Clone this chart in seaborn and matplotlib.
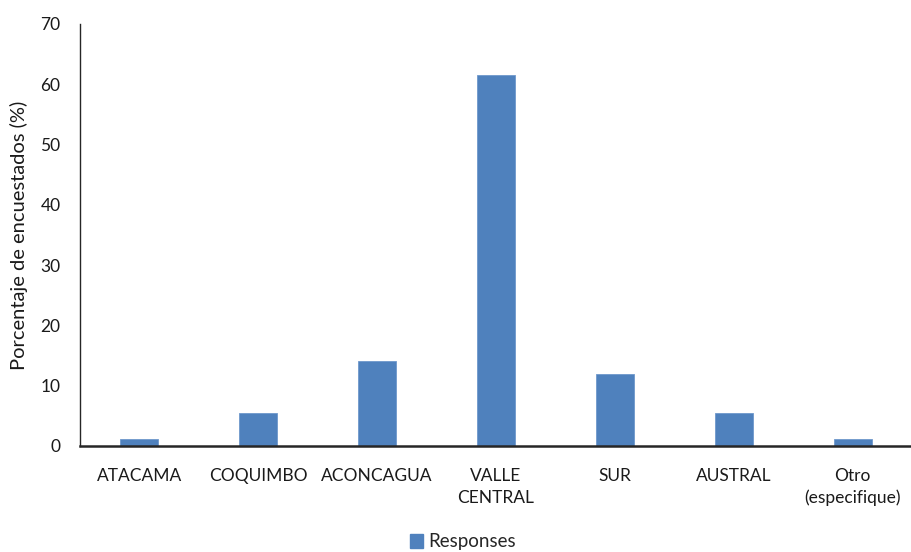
import matplotlib
matplotlib.use("Agg")
import matplotlib.pyplot as plt
import seaborn as sns
import pandas as pd
from matplotlib.patches import Patch

categories = ["ATACAMA", "COQUIMBO", "ACONCAGUA", "VALLE\nCENTRAL", "SUR", "AUSTRAL", "Otro\n(especifique)"]
responses = [1.2, 5.5, 14.1, 61.5, 11.9, 5.5, 1.2]
y_ticks = [0, 10, 20, 30, 40, 50, 60, 70]
series_name = "Responses"

sns.set_theme(style="white")
plt.rcParams["font.family"] = ["Lato", "DejaVu Sans"]

df = pd.DataFrame({"Región": categories, "Porcentaje": responses})

fig = plt.figure(figsize=(9.12, 5.52), dpi=100)
ax = fig.add_axes([80 / 912, 1 - 446 / 552, 832 / 912, (446 - 24) / 552])

bar_color = "#4F81BD"
sns.barplot(data=df, x="Región", y="Porcentaje", color=bar_color, width=0.32,
            saturation=1, ax=ax, edgecolor="#6F98CC", linewidth=0.6)

ax.set_ylim(0, 70)
ax.set_xlim(-0.5, len(categories) - 0.5)
ax.set_yticks(y_ticks)
ax.set_yticklabels([str(t) for t in y_ticks], fontsize=12.5, color="#1a1a1a")
ax.tick_params(axis="y", length=0, pad=14)
ax.tick_params(axis="x", length=0, pad=16)
for lbl in ax.get_xticklabels():
    lbl.set_fontsize(12.5)
    lbl.set_color("#1a1a1a")
    lbl.set_linespacing(1.42)
ax.set_xlabel("")
ax.set_ylabel("Porcentaje de encuestados (%)", fontsize=14.5, color="#1a1a1a", labelpad=9)

for side in ["top", "right"]:
    ax.spines[side].set_visible(False)
ax.spines["left"].set_color("#262626")
ax.spines["left"].set_linewidth(1.0)
ax.spines["bottom"].set_color("#262626")
ax.spines["bottom"].set_linewidth(1.8)

handle = Patch(facecolor=bar_color, edgecolor=bar_color)
fig.legend([handle], [series_name], loc="center", bbox_to_anchor=(463 / 912, 1 - 542 / 552),
           frameon=False, fontsize=13.5, handlelength=0.7, handleheight=0.7, handletextpad=0.3)

fig.savefig("out.png", dpi=100)
